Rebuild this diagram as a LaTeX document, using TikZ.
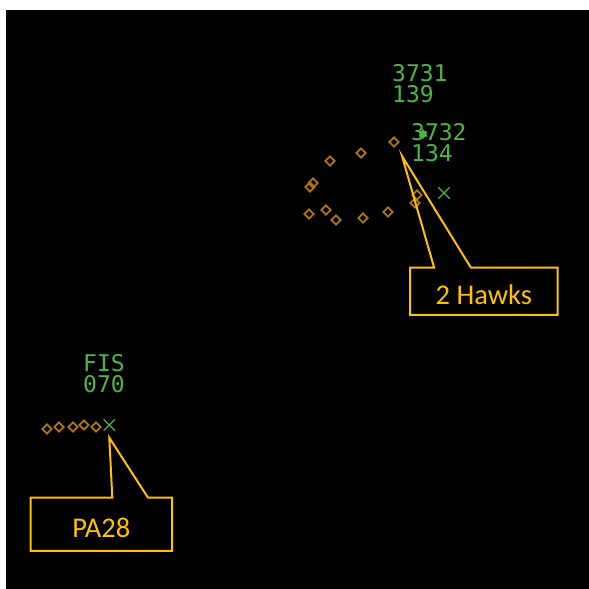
\documentclass[tikz,border=0pt]{standalone}
\usepackage{fontspec}
\newfontfamily\radarfont{DejaVu Sans Mono}
\newfontfamily\calloutfont{Carlito}
\usetikzlibrary{positioning,shapes.geometric,shapes.misc}
\definecolor{radargreen}{RGB}{76,180,72}
\definecolor{trailorange}{RGB}{176,118,16}
\definecolor{calloutyellow}{RGB}{255,192,0}
\tikzset{tag/.style={text=radargreen,font=\radarfont\fontsize{23}{21}\selectfont,align=left,inner sep=0pt,anchor=base west},
	 hist/.style={diamond,draw=trailorange,line width=1.8pt,inner sep=0pt,minimum size=10pt},
	 plot/.style={cross out,draw=radargreen,line width=1.3pt,inner sep=0pt,minimum size=10pt},
	 callout/.style={text=calloutyellow,font=\calloutfont\fontsize{28.5}{30}\selectfont,inner sep=0pt,
	   minimum width=147pt,minimum height=47pt,text height=27pt,text depth=0pt},
	 leader/.style={draw=calloutyellow,line width=2pt}
	 }
\begin{document}
\begin{tikzpicture}[x=1pt,y=-1pt]% radar picture
        \fill[white] (0,0) rectangle (589,589);
        \fill[black] (6,10) rectangle (589,589);
        % the two Hawks
        \node[tag] (t3731) at (392,102) {3731\\139};
        \node[tag] (t3732) at (411,161) {3732\\134};
        \node[star,star points=6,fill=radargreen,inner sep=0pt,minimum size=10pt] (s3732) at (423,134) {};
        \node[plot] (x3732) at (444,193) {};
        \foreach \x/\y [count=\i] in {394/142,361/153,330/161,313/183,310/187,309/214,326/210,336/220,363/218,388/212,417/195,415/203}
          \node[hist] (h\i) at (\x,\y) {};
        \node[callout] (hawks) at (483.8,291.2) {2 Hawks};
        \coordinate (hawks-tip) at (402,156);
        \coordinate (hawks-l) at ([xshift=24pt]hawks.north west);
        \coordinate (hawks-r) at ([xshift=60.7pt]hawks.north west);
        \draw[leader] (hawks-l) -- (hawks.north west) -- (hawks.south west) -- (hawks.south east)
          -- (hawks.north east) -- (hawks-r) -- (hawks-tip) -- cycle;
        % the PA28
        \node[tag] (tfis) at (83,392.7) {FIS\\070};
        \node[plot] (xfis) at (109.3,425) {};
        \foreach \x/\y [count=\i] in {47/429,59/427,73/427,84/425,96/427}
          \node[hist] (f\i) at (\x,\y) {};
        \node[callout,minimum width=141pt,minimum height=53pt] (pa28) at (101.3,524.2) {PA28};
        \coordinate (pa28-tip) at (109.3,437.7);
        \coordinate (pa28-l) at ([xshift=81.7pt]pa28.north west);
        \coordinate (pa28-r) at ([xshift=117.3pt]pa28.north west);
        \draw[leader] (pa28-l) -- (pa28.north west) -- (pa28.south west) -- (pa28.south east)
          -- (pa28.north east) -- (pa28-r) -- (pa28-tip) -- cycle;
\end{tikzpicture}
\end{document}
